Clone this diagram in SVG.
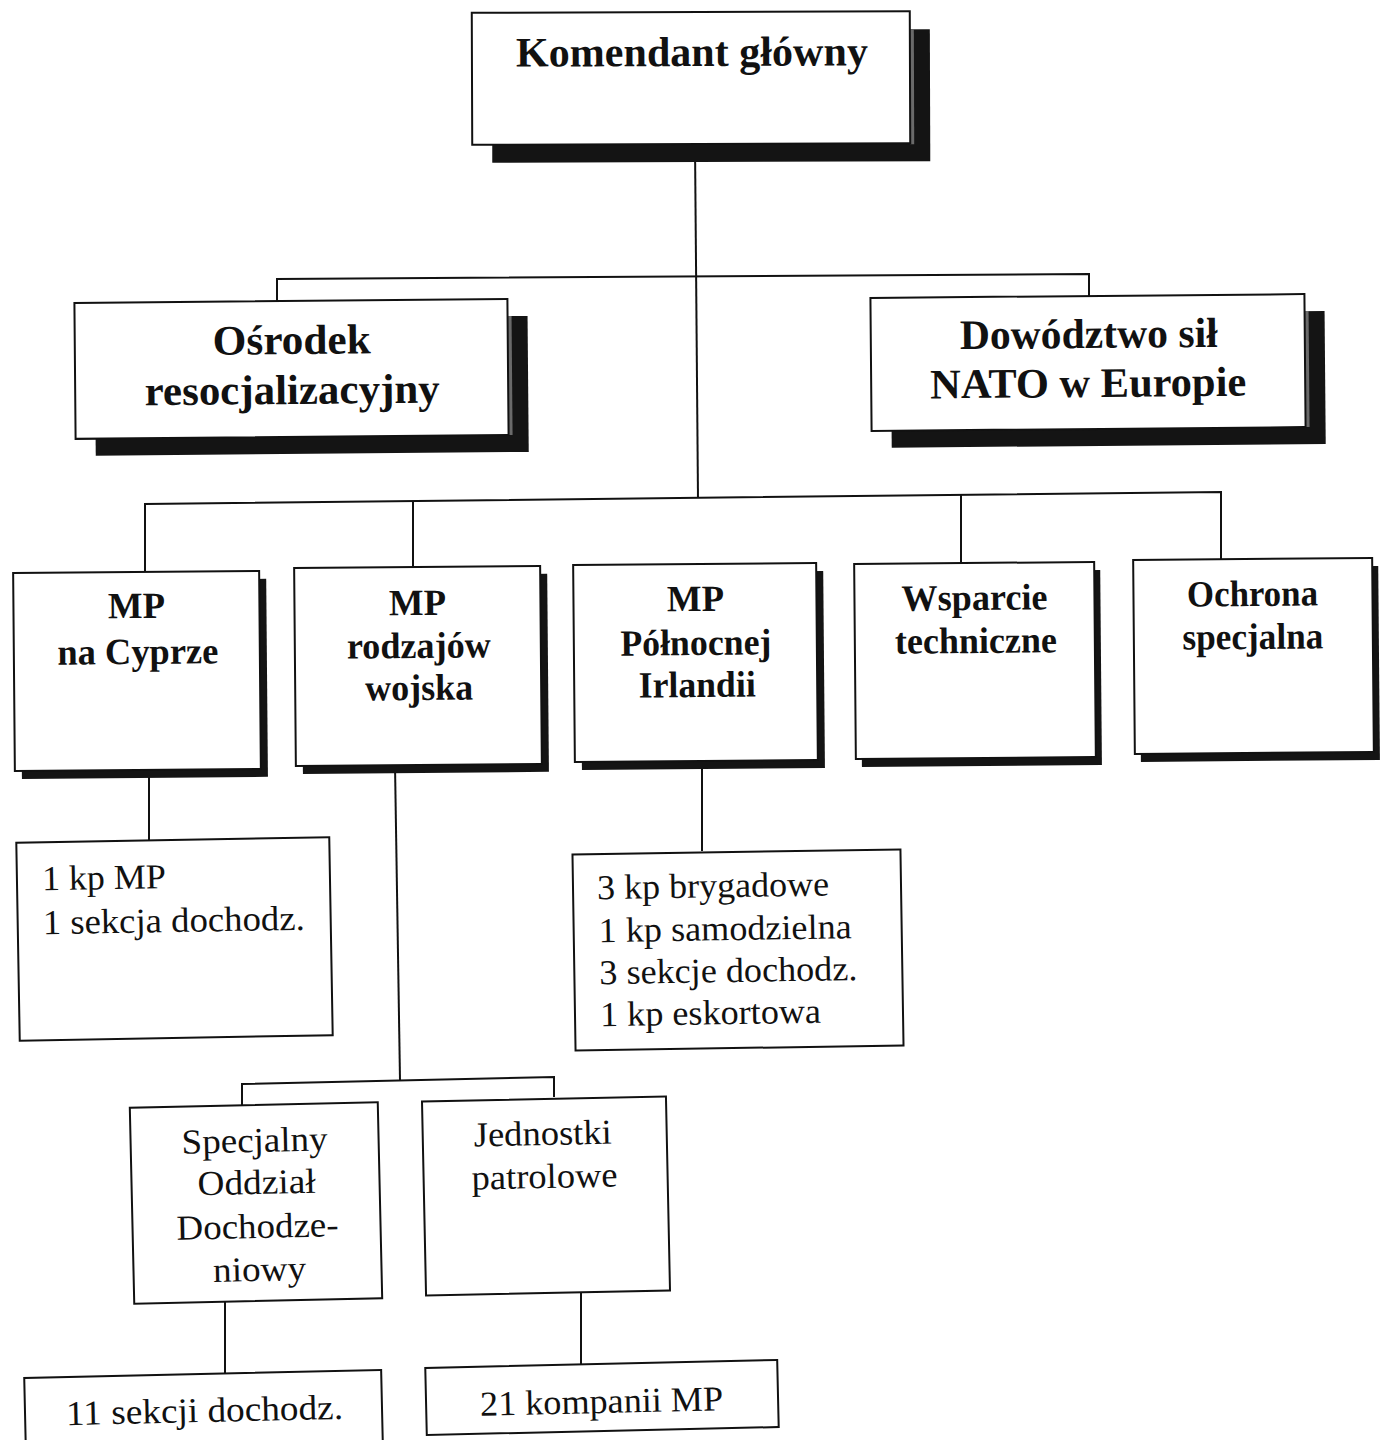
<svg xmlns="http://www.w3.org/2000/svg" width="1388" height="1440" viewBox="0 0 1388 1440">
<style>
.bg{fill:#ffffff}
.box{fill:#ffffff;stroke:#111;stroke-width:2}
.sh{fill:#141414}
.shs{fill:#6a6a6a}
.ln{stroke:#111;stroke-width:2;fill:none}
.tb{font-family:"Liberation Serif","Times New Roman",serif;font-weight:bold;fill:#111;text-anchor:middle}
.tr{font-family:"Liberation Serif","Times New Roman",serif;font-weight:normal;fill:#111}
.big{font-size:42px}
.mid{font-size:37px}
.sm{font-size:35px}
</style>
<rect class="bg" x="0" y="0" width="1388" height="1440"/>
<g id="connectors">
<line class="ln" x1="695" y1="145" x2="698" y2="498"/>
<polyline class="ln" points="277,301 277,279 1089,274 1089,296"/>
<polyline class="ln" points="145,572 145,504 1221,492 1221,559"/>
<line class="ln" x1="413" y1="501" x2="413" y2="567"/>
<line class="ln" x1="961" y1="495" x2="961" y2="563"/>
<line class="ln" x1="149" y1="770" x2="149" y2="840"/>
<line class="ln" x1="395" y1="765" x2="400" y2="1080"/>
<polyline class="ln" points="242,1105 242,1084 554,1077 554,1097"/>
<line class="ln" x1="702" y1="761" x2="702" y2="851"/>
<line class="ln" x1="225" y1="1300" x2="225" y2="1373"/>
<line class="ln" x1="581" y1="1292" x2="581" y2="1364"/>
</g>
<g id="komendant" transform="rotate(-0.2 691 78)">
<rect class="sh" x="492" y="30" width="438" height="132"/>
<rect class="shs" x="910" y="30" width="4" height="115"/>
<rect class="box" x="472" y="12" width="438" height="132"/>
<text class="tb big" x="692" y="66" textLength="352" lengthAdjust="spacingAndGlyphs">Komendant główny</text>
</g>
<g id="osrodek" transform="rotate(-0.5 291 369)">
<rect class="sh" x="95" y="318" width="433" height="136"/>
<rect class="shs" x="508" y="318" width="4" height="119"/>
<rect class="box" x="75" y="301" width="433" height="136"/>
<text class="tb big" x="292" y="354" textLength="158" lengthAdjust="spacingAndGlyphs">Ośrodek</text>
<text class="tb big" x="292" y="404" textLength="295" lengthAdjust="spacingAndGlyphs">resocjalizacyjny</text>
</g>
<g id="dowodztwo" transform="rotate(-0.5 1088 362)">
<rect class="sh" x="891" y="313" width="434" height="133"/>
<rect class="shs" x="1305" y="313" width="4" height="116"/>
<rect class="box" x="871" y="296" width="434" height="133"/>
<text class="tb big" x="1089" y="348" textLength="258" lengthAdjust="spacingAndGlyphs">Dowództwo sił</text>
<text class="tb big" x="1088" y="397" textLength="316" lengthAdjust="spacingAndGlyphs">NATO w Europie</text>
</g>
<g id="mp-cypr" transform="rotate(-0.5 137 671)">
<rect class="sh" x="21" y="580" width="246" height="198"/>
<rect class="box" x="14" y="572" width="246" height="198"/>
<text class="tb mid" x="137" y="618" textLength="57" lengthAdjust="spacingAndGlyphs">MP</text>
<text class="tb mid" x="138" y="664" textLength="161" lengthAdjust="spacingAndGlyphs">na Cyprze</text>
</g>
<g id="mp-rodzajow" transform="rotate(-0.5 418 666)">
<rect class="sh" x="302" y="575" width="246" height="198"/>
<rect class="box" x="295" y="567" width="246" height="198"/>
<text class="tb mid" x="418" y="615" textLength="57" lengthAdjust="spacingAndGlyphs">MP</text>
<text class="tb mid" x="419" y="658" textLength="144" lengthAdjust="spacingAndGlyphs">rodzajów</text>
<text class="tb mid" x="419" y="700" textLength="108" lengthAdjust="spacingAndGlyphs">wojska</text>
</g>
<g id="mp-irlandia" transform="rotate(-0.5 696 662)">
<rect class="sh" x="581" y="572" width="243" height="197"/>
<rect class="box" x="574" y="564" width="243" height="197"/>
<text class="tb mid" x="696" y="611" textLength="57" lengthAdjust="spacingAndGlyphs">MP</text>
<text class="tb mid" x="696" y="655" textLength="151" lengthAdjust="spacingAndGlyphs">Północnej</text>
<text class="tb mid" x="697" y="697" textLength="117" lengthAdjust="spacingAndGlyphs">Irlandii</text>
</g>
<g id="wsparcie" transform="rotate(-0.5 975 660)">
<rect class="sh" x="861" y="571" width="240" height="195"/>
<rect class="box" x="855" y="563" width="240" height="195"/>
<text class="tb mid" x="975" y="610" textLength="146" lengthAdjust="spacingAndGlyphs">Wsparcie</text>
<text class="tb mid" x="976" y="653" textLength="162" lengthAdjust="spacingAndGlyphs">techniczne</text>
</g>
<g id="ochrona" transform="rotate(-0.5 1253 656)">
<rect class="sh" x="1140" y="567" width="239" height="194"/>
<rect class="box" x="1134" y="559" width="239" height="194"/>
<text class="tb mid" x="1253" y="606" textLength="131" lengthAdjust="spacingAndGlyphs">Ochrona</text>
<text class="tb mid" x="1253" y="649" textLength="141" lengthAdjust="spacingAndGlyphs">specjalna</text>
</g>
<g id="cypr-sklad" transform="rotate(-1 174 939)">
<rect class="box" x="18" y="840" width="313" height="198"/>
<text class="tr sm" x="43" y="888" textLength="124" lengthAdjust="spacingAndGlyphs">1 kp MP</text>
<text class="tr sm" x="43" y="932" textLength="262" lengthAdjust="spacingAndGlyphs">1 sekcja dochodz.</text>
</g>
<g id="irlandia-sklad" transform="rotate(-0.9 738 950)">
<rect class="box" x="574" y="852" width="328" height="196"/>
<text class="tr sm" x="598" y="897" textLength="232" lengthAdjust="spacingAndGlyphs">3 kp brygadowe</text>
<text class="tr sm" x="599" y="940" textLength="253" lengthAdjust="spacingAndGlyphs">1 kp samodzielna</text>
<text class="tr sm" x="599" y="982" textLength="258" lengthAdjust="spacingAndGlyphs">3 sekcje dochodz.</text>
<text class="tr sm" x="599" y="1024" textLength="221" lengthAdjust="spacingAndGlyphs">1 kp eskortowa</text>
</g>
<g id="specjalny" transform="rotate(-1.3 256 1203)">
<rect class="box" x="132" y="1105" width="248" height="196"/>
<text class="tr sm" x="256" y="1152" text-anchor="middle" textLength="146" lengthAdjust="spacingAndGlyphs">Specjalny</text>
<text class="tr sm" x="257" y="1194" text-anchor="middle" textLength="118" lengthAdjust="spacingAndGlyphs">Oddział</text>
<text class="tr sm" x="257" y="1238" text-anchor="middle" textLength="162" lengthAdjust="spacingAndGlyphs">Dochodze-</text>
<text class="tr sm" x="258" y="1281" text-anchor="middle" textLength="93" lengthAdjust="spacingAndGlyphs">niowy</text>
</g>
<g id="jednostki" transform="rotate(-1.2 546 1196)">
<rect class="box" x="424" y="1099" width="244" height="194"/>
<text class="tr sm" x="544" y="1145" text-anchor="middle" textLength="138" lengthAdjust="spacingAndGlyphs">Jednostki</text>
<text class="tr sm" x="545" y="1188" text-anchor="middle" textLength="146" lengthAdjust="spacingAndGlyphs">patrolowe</text>
</g>
<g id="sekcje11" transform="rotate(-1.3 204 1410)">
<rect class="box" x="25" y="1374" width="357" height="80"/>
<text class="tr sm" x="66" y="1422" textLength="277" lengthAdjust="spacingAndGlyphs">11 sekcji dochodz.</text>
</g>
<g id="kompanie21" transform="rotate(-1.3 602 1398)">
<rect class="box" x="426" y="1364" width="352" height="67"/>
<text class="tr sm" x="480" y="1413" textLength="243" lengthAdjust="spacingAndGlyphs">21 kompanii MP</text>
</g>
</svg>
